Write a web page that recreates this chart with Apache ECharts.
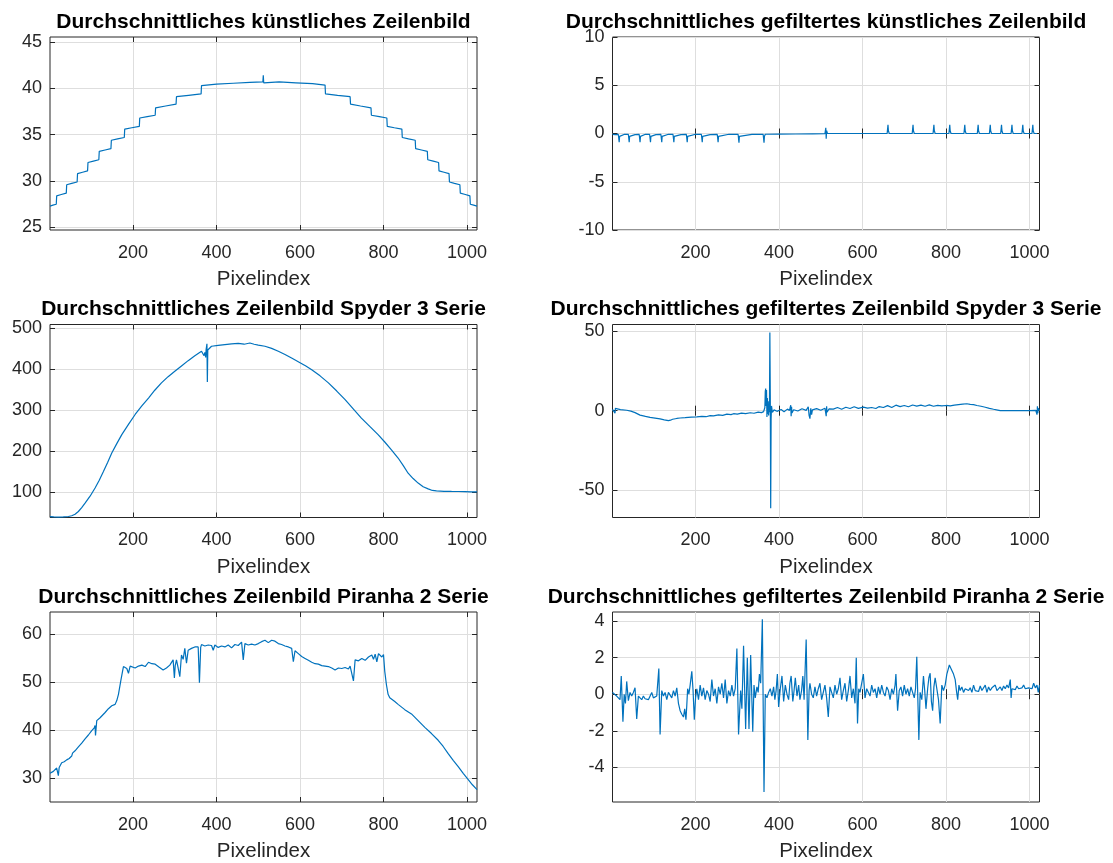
<!DOCTYPE html>
<html>
<head>
<meta charset="utf-8">
<script src="https://cdn.jsdelivr.net/npm/echarts@6/dist/echarts.min.js"></script>
<style>
html,body{margin:0;padding:0;background:#fff;}
#c{width:1113px;height:863px;}
</style>
</head>
<body>
<div id="c"></div>
<script>
// ---------- tick labels ----------
const xTicks = [200, 400, 600, 800, 1000];
const artTicks = [25, 30, 35, 40, 45];
const artFiltTicks = [-10, -5, 0, 5, 10];
const spyTicks = [100, 200, 300, 400, 500];
const spyFiltTicks = [-50, 0, 50];
const pirTicks = [30, 40, 50, 60];
const pirFiltTicks = [-4, -2, 0, 2, 4];

// ---------- titles ----------
const titles = [
  'Durchschnittliches künstliches Zeilenbild',
  'Durchschnittliches gefiltertes künstliches Zeilenbild',
  'Durchschnittliches Zeilenbild Spyder 3 Serie',
  'Durchschnittliches gefiltertes Zeilenbild Spyder 3 Serie',
  'Durchschnittliches Zeilenbild Piranha 2 Serie',
  'Durchschnittliches gefiltertes Zeilenbild Piranha 2 Serie'
];
const xName = 'Pixelindex';

// ---------- data: artificial row image ----------
const artX = [1,8,16,17,28,40,41,53,66,67,79,91,92,105,118,119,133,147,148,163,179,180,197,215,216,234,253,254,278,303,304,333,363,364,400,440,480,511,512,513,514,550,590,630,660,661,690,720,721,745,770,771,790,808,809,826,844,845,860,876,877,891,905,906,919,932,933,945,957,958,970,983,984,996,1007,1008,1016,1024];
const artY = [27.3,27.4,27.5,28.4,28.55,28.7,29.6,29.75,29.9,30.8,30.95,31.1,32.0,32.15,32.3,33.2,33.35,33.5,34.4,34.55,34.7,35.6,35.75,35.9,36.8,36.95,37.1,37.9,38.1,38.3,39.1,39.25,39.4,40.3,40.45,40.55,40.65,40.7,41.4,40.6,40.7,40.7,40.6,40.5,40.35,39.4,39.25,39.1,38.3,38.1,37.9,37.1,36.95,36.8,35.9,35.75,35.6,34.7,34.55,34.4,33.5,33.35,33.2,32.3,32.15,32.0,31.1,30.95,30.8,29.9,29.75,29.6,28.7,28.55,28.4,27.5,27.4,27.3];

// ---------- data: filtered artificial row image ----------
const artFiltX = [1,8,15,16,17,18,20,30,39,40,41,42,44,55,65,66,67,68,70,80,90,91,92,93,95,105,117,118,119,120,122,135,146,147,148,149,151,165,178,179,180,181,183,200,214,215,216,217,219,235,252,253,254,255,257,280,302,303,304,305,307,335,362,363,364,365,367,400,440,480,510,511,512,513,514,516,550,600,640,659,660,661,662,664,690,719,720,721,722,724,745,769,770,771,772,774,790,807,808,809,810,812,826,843,844,845,846,848,860,875,876,877,878,880,890,904,905,906,907,909,920,931,932,933,934,936,945,956,957,958,959,961,970,982,983,984,985,987,996,1006,1007,1008,1009,1011,1018,1024];
const artFiltY = [-0.1,-0.12,-0.1,-0.15,-0.9,-0.3,-0.1,-0.08,-0.1,-0.15,-0.9,-0.3,-0.1,-0.12,-0.1,-0.15,-0.9,-0.3,-0.1,-0.08,-0.1,-0.15,-0.9,-0.3,-0.1,-0.12,-0.1,-0.15,-0.9,-0.3,-0.1,-0.08,-0.1,-0.15,-0.9,-0.3,-0.1,-0.12,-0.1,-0.15,-0.9,-0.3,-0.1,-0.08,-0.1,-0.15,-0.9,-0.3,-0.1,-0.12,-0.1,-0.15,-0.9,-0.3,-0.1,-0.08,-0.1,-0.15,-0.95,-0.3,-0.1,-0.1,-0.1,-0.15,-0.95,-0.3,-0.08,-0.06,-0.05,-0.03,-0.02,-0.1,0.6,-0.55,0.3,0.0,0.0,0.0,0.0,0.0,0.05,0.9,0.3,0.0,0.0,0.0,0.05,0.9,0.3,0.0,0.0,0.0,0.05,0.9,0.3,0.0,0.0,0.0,0.05,0.9,0.3,0.0,0.0,0.0,0.05,0.9,0.3,0.0,0.0,0.0,0.05,0.9,0.3,0.0,0.0,0.0,0.05,0.9,0.3,0.0,0.0,0.0,0.05,0.9,0.3,0.0,0.0,0.0,0.05,0.9,0.3,0.0,0.0,0.0,0.05,0.9,0.3,0.0,0.0,0.0,0.05,0.9,0.3,0.0,0.0];

// ---------- data: Spyder 3 row image ----------
const spyX = [1,10,21,33,45,53,61,69,77,85,97,109,119,129,139,149,161,173,189,205,221,237,252,268,284,300,316,332,348,364,368,370,372,374,375,377,378,379,380,388,404,420,436,452,466,480,490,500,516,532,548,564,582,600,614,628,648,668,688,708,728,747,767,787,803,819,835,847,859,871,883,895,907,917,927,945,963,980,995,1010,1024];
const spyY = [40.5,39.5,39.0,39.5,40.7,42.5,46,52.8,62,73,90,110,129,150,172,195,218,240,265,289,310,329,348,366,381,394,407,420,432,443,446,432,440,428,447,461,368,446,450,455,457,459,461,462,460,463,460,458,455,450,443,435,425,415,407,398,383,366,346,325,302,280,260,240,222,203,183,165,146,133,122,113,108,104,103,102,101.6,101.5,101.3,100.8,100.5];

// ---------- data: filtered Spyder 3 row image ----------
const spyFiltX = [1,5,7,8,10,20,35,45,55,67,80,91,103,115,125,135,140,145,155,163,175,190,203,215,225,235,243,255,265,275,285,291,300,310,320,331,340,350,358,363,366,367,368,369,370,371,372,373,374,375,376,377,378,379,380,381,382,384,388,395,405,412,420,425,428,429,430,431,435,445,455,465,470,472,474,476,478,480,490,500,510,513,514,515,520,530,540,550,560,570,580,590,602,612,622,632,640,650,660,670,680,690,700,710,720,730,740,750,760,770,780,790,800,810,820,830,840,850,858,866,874,884,894,904,914,924,930,940,955,970,985,1000,1015,1018,1019,1020,1021,1024];
const spyFiltY = [0.8,0.3,-1.5,1.5,0.6,0.7,0.3,-0.3,-1.2,-2.8,-3.6,-4.2,-4.7,-5.2,-5.8,-6.3,-6.0,-5.4,-4.9,-4.6,-4.4,-4.1,-3.9,-3.6,-3.8,-3.1,-3.3,-2.6,-2.9,-2.2,-2.5,-1.9,-2.2,-1.5,-1.9,-1.3,-1.6,-0.9,-1.2,-0.6,2,12,14,3,13,-4,8,-2,6,-3,2,-1,49.4,10,-61.5,-5,3,-1,0.5,-0.4,0.8,-0.6,1.0,0.2,3.5,-3.5,2.5,-1.5,0.6,-0.2,1.2,0.2,2.5,-3.0,-5.0,1.5,-2.5,0.5,1.3,0.3,1.6,-3.5,2.8,-1.0,1.2,1.0,2.0,0.9,2.2,1.4,2.5,1.5,2.3,1.6,2.0,1.4,2.6,2.0,3.2,2.0,3.5,2.6,3.3,2.5,3.6,2.9,3.5,2.8,3.7,2.8,3.4,3.0,3.3,3.1,3.5,3.8,4.1,4.4,4.0,3.8,3.3,2.8,2.2,1.5,0.9,0.4,0.1,0.0,0.1,0.0,0.1,0.0,0.2,-2.5,2.8,-1.5,1.5,0.2];

// ---------- data: Piranha 2 row image ----------
const pirX = [1,9,17,21,23,29,35,41,47,53,55,61,69,77,85,93,101,107,109,110,113,121,133,141,149,157,161,165,171,175,177,181,185,189,193,197,205,213,221,229,237,245,253,262,272,280,288,296,299,301,304,308,312,316,320,324,328,332,340,348,356,359,362,364,372,380,388,392,396,404,412,420,428,436,444,452,460,464,468,476,484,492,500,508,516,524,532,540,548,556,564,572,580,584,588,596,604,612,620,628,636,644,652,660,668,676,684,692,700,708,716,720,724,728,732,740,748,756,764,772,776,780,784,788,792,796,800,803,807,811,815,819,827,835,851,867,883,899,915,931,943,955,967,979,991,1003,1013,1024];
const pirY = [31.0,31.4,32.1,30.5,32.2,33.2,33.4,33.8,34.1,34.6,35.2,35.7,36.5,37.3,38.2,39.0,39.9,40.5,41.0,38.9,42.0,42.6,43.7,44.5,45.1,45.4,46.2,47.5,50.5,52.4,53.3,53.0,52.9,51.9,53.4,53.3,53.0,53.4,53.6,53.3,54.2,53.9,53.8,53.2,52.6,53.0,53.6,54.7,50.9,53.5,54.7,53.0,51.2,55.7,54.8,57.1,54.0,56.7,57.1,57.4,57.4,49.9,57.3,57.9,57.6,57.8,57.7,56.7,57.8,57.3,57.6,57.4,57.8,57.2,57.9,57.7,58.4,54.7,58.1,57.8,58.0,57.8,58.1,58.5,58.8,58.3,58.8,58.6,58.1,57.9,57.6,57.4,57.1,54.3,56.6,56.0,55.4,55.0,54.6,54.2,53.9,53.8,53.5,53.4,53.3,53.0,52.6,53.0,52.9,53.1,52.8,53.4,53.2,50.3,54.7,54.5,55.0,54.6,55.3,55.7,54.8,55.9,54.3,56.0,55.6,55.3,55.8,52.3,49.5,47.5,46.8,46.4,46.0,45.4,44.3,43.4,42.0,40.6,39.3,37.9,36.6,35.1,33.7,32.4,31.0,29.7,28.6,27.6];

// ---------- data: filtered Piranha 2 row image, [pixel index, value] ----------
const pirFiltPts = [[1,0.1],[6,0.0],[11,-0.1],[15,-0.2],[19,-0.3],[22,1.0],[26,-1.5],[29,0.0],[32,-0.5],[35,0.7],[39,-0.35],[43,0.1],[47,-0.1],[51,0.1],[55,0.35],[59,-1.35],[63,-0.1],[67,-0.2],[71,-0.3],[75,-0.1],[79,-0.25],[83,-0.15],[87,-0.3],[91,-0.2],[95,0.1],[99,-0.2],[103,-0.3],[107,-0.1],[112,1.4],[115,-2.2],[119,0.2],[123,-0.1],[127,0.1],[131,-0.3],[135,0.1],[139,0.0],[143,-0.2],[147,0.2],[151,-0.1],[155,0.35],[159,-0.5],[163,-0.9],[167,-1.1],[171,-1.25],[174,-0.8],[177,-1.4],[179,-0.6],[181,0.3],[184,0.0],[187,0.5],[191,1.25],[194,0.2],[197,-1.4],[200,-0.2],[203,0.3],[207,-0.3],[211,0.5],[215,-0.1],[219,0.35],[223,-0.3],[227,0.2],[231,0.0],[235,-0.4],[239,0.8],[243,-0.1],[247,0.3],[251,-0.5],[255,0.4],[259,0.0],[263,0.6],[267,-0.2],[271,0.8],[275,-0.5],[279,0.2],[283,-0.1],[287,0.5],[291,-0.1],[295,0.3],[299,2.5],[303,-2.2],[308,0.2],[311,-0.8],[315,2.65],[320,-1.9],[324,2.0],[328,-1.9],[332,2.15],[337,-2.05],[340,0.5],[343,-0.2],[347,0.4],[350,0.1],[353,1.1],[356,0.6],[360,4.1],[364,-5.35],[367,0.0],[371,-0.2],[375,0.1],[379,0.3],[383,-0.1],[387,0.4],[390,-0.3],[393,0.2],[396,1.1],[399,-0.7],[403,0.3],[407,1.0],[411,-0.4],[415,0.5],[419,0.0],[423,-0.3],[426,0.6],[429,1.0],[433,-0.4],[436,0.2],[439,0.9],[443,-0.1],[447,0.5],[450,-0.3],[454,0.2],[457,1.0],[460,-0.3],[465,3.0],[469,-2.5],[472,0.2],[474,0.6],[478,0.0],[482,-0.2],[486,0.4],[490,-0.1],[494,0.3],[498,0.6],[502,-0.3],[506,0.1],[510,0.5],[514,-0.2],[518,-1.25],[522,0.4],[526,0.1],[530,-0.2],[534,0.5],[538,0.0],[542,0.3],[546,0.9],[550,-0.3],[554,0.2],[558,0.6],[562,-0.4],[566,0.2],[570,1.0],[574,-0.2],[578,0.3],[582,-0.5],[585,2.0],[588,-1.6],[591,0.3],[594,0.1],[598,0.6],[602,1.1],[606,-0.2],[610,0.3],[614,0.4],[618,-0.1],[622,0.5],[626,0.1],[630,0.3],[634,-0.2],[638,0.4],[642,0.0],[646,0.5],[650,0.1],[654,-0.1],[658,0.4],[662,0.2],[666,-0.3],[670,0.3],[674,0.0],[678,0.5],[680,1.1],[684,-0.9],[688,0.2],[692,0.4],[696,-0.1],[700,0.5],[704,0.0],[708,0.3],[712,-0.1],[716,0.4],[720,0.1],[724,-0.2],[727,0.3],[730,2.05],[735,-2.5],[738,0.1],[742,-0.3],[746,1.0],[749,0.2],[752,-0.8],[756,0.3],[759,0.9],[762,1.15],[765,-0.4],[768,-0.9],[771,0.4],[774,0.9],[778,0.9],[782,-0.3],[786,-1.6],[790,0.5],[794,0.2],[798,0.5],[802,1.1],[805,1.35],[808,1.6],[811,1.45],[814,1.35],[818,1.1],[822,0.8],[825,0.2],[828,-0.3],[831,0.5],[834,0.2],[838,0.4],[842,0.1],[846,0.3],[850,0.4],[854,0.2],[858,0.35],[862,0.1],[866,0.5],[870,0.2],[874,0.3],[878,0.15],[882,0.45],[886,0.2],[890,0.3],[894,0.5],[898,0.1],[902,0.4],[906,0.2],[910,0.35],[914,0.25],[918,0.5],[922,0.2],[926,0.3],[930,0.4],[934,0.2],[938,0.45],[942,0.3],[946,0.5],[950,0.35],[954,0.8],[956,-0.2],[958,0.3],[962,0.4],[966,0.25],[970,0.45],[974,0.3],[978,0.4],[982,0.35],[986,0.5],[990,0.3],[994,0.4],[998,0.35],[1002,0.45],[1006,0.3],[1010,0.6],[1014,0.35],[1018,0.5],[1021,0.1],[1024,0.5]];

// ---------- layout ----------
const FONT = '"Liberation Sans", Arial, Helvetica, sans-serif';
const INK = '#262626';
const LINE = '#0072BD';
const GRIDC = '#dedede';
const colLeft = [50, 612.5];
const colWidth = 427;
const rowTop = [37, 324.5, 612];
const boxH = 193;

const zip = (xs, ys) => xs.map((v, k) => [v, ys[k]]);
const panels = [
  {data: zip(artX, artY), min: 24.72, max: 45.54, ticks: artTicks},
  {data: zip(artFiltX, artFiltY), min: -10, max: 10, ticks: artFiltTicks},
  {data: zip(spyX, spyY), min: 38.2, max: 508, ticks: spyTicks},
  {data: zip(spyFiltX, spyFiltY), min: -67.4, max: 54.4, ticks: spyFiltTicks},
  {data: zip(pirX, pirY), min: 25.0, max: 64.7, ticks: pirTicks},
  {data: pirFiltPts, min: -5.9, max: 4.5, ticks: pirFiltTicks}
];

const plain = v => String(v);
const grid = [], xAxis = [], yAxis = [], series = [], graphic = [];
panels.forEach((p, i) => {
  const col = i % 2, row = Math.floor(i / 2);
  const left = colLeft[col], top = rowTop[row];
  grid.push({left: left, top: top, width: colWidth, height: boxH, show: true,
    borderColor: INK, borderWidth: 1, backgroundColor: '#fff', containLabel: false});
  const tickStyle = {show: true, inside: true, length: 5, lineStyle: {color: INK, width: 1}};
  xAxis.push({type: 'value', gridIndex: i, min: 1, max: 1024, position: 'bottom',
    axisLine: {show: false},
    axisTick: Object.assign({customValues: xTicks}, tickStyle),
    axisLabel: {customValues: xTicks, formatter: plain, color: INK, fontSize: 18, fontFamily: FONT, margin: 14},
    splitLine: {show: true, lineStyle: {color: GRIDC, width: 1}},
    name: xName, nameLocation: 'middle', nameGap: 39,
    nameTextStyle: {color: INK, fontSize: 20.5, fontFamily: FONT}});
  xAxis.push({type: 'value', gridIndex: i, min: 1, max: 1024, position: 'top',
    axisLine: {show: false},
    axisTick: Object.assign({customValues: xTicks}, tickStyle),
    axisLabel: {show: false}, splitLine: {show: false}});
  yAxis.push({type: 'value', gridIndex: i, min: p.min, max: p.max, position: 'left',
    axisLine: {show: false},
    axisTick: Object.assign({customValues: p.ticks}, tickStyle),
    axisLabel: {customValues: p.ticks, formatter: plain, color: INK, fontSize: 18, fontFamily: FONT, margin: 8, padding: [3, 0, 0, 0]},
    splitLine: {show: true, lineStyle: {color: GRIDC, width: 1}}});
  yAxis.push({type: 'value', gridIndex: i, min: p.min, max: p.max, position: 'right',
    axisLine: {show: false},
    axisTick: Object.assign({customValues: p.ticks}, tickStyle),
    axisLabel: {show: false}, splitLine: {show: false}});
  series.push({type: 'line', xAxisIndex: 2 * i, yAxisIndex: 2 * i,
    data: p.data,
    showSymbol: false, symbol: 'none', clip: true,
    lineStyle: {color: LINE, width: 1.2}, animation: false});
  graphic.push({type: 'text', x: left + colWidth / 2, y: top - 15,
    style: {text: titles[i], align: 'center', verticalAlign: 'middle',
      fontSize: 21, fontWeight: 'bold', fontFamily: FONT, fill: '#000'}});
});

const chart = echarts.init(document.getElementById('c'), null, {renderer: 'canvas'});
chart.setOption({animation: false, grid, xAxis, yAxis, series, graphic});
</script>
</body>
</html>
